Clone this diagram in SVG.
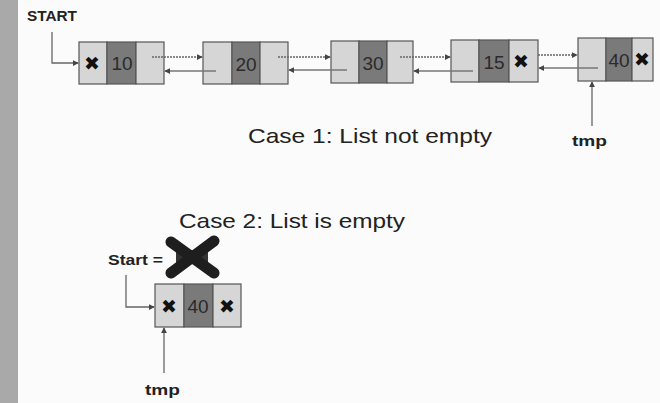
<svg xmlns="http://www.w3.org/2000/svg" width="660" height="403" viewBox="0 0 660 403">
<style>
.lt{fill:#d6d6d6;stroke:#555;stroke-width:1.2}
.dk{fill:#7a7a7a;stroke:#555;stroke-width:1.2}
.num{font-family:"Liberation Sans",Arial,sans-serif;font-size:19px;fill:#2a2a2a;text-anchor:middle}
.x{font-family:"DejaVu Sans",sans-serif;font-size:19px;fill:#111;text-anchor:middle}
.lbl{font-family:"Liberation Sans",Arial,sans-serif;font-weight:bold;font-size:15px;fill:#222}
.cap{font-family:"Liberation Sans",Arial,sans-serif;font-size:21px;fill:#222}
.fw{stroke:#666;stroke-width:1.5;fill:none;stroke-dasharray:2 1;marker-end:url(#ah)}
.bw{stroke:#777;stroke-width:1.5;fill:none;marker-end:url(#ah)}
.pt{stroke:#666;stroke-width:1.3;fill:none;marker-end:url(#ah)}
</style>
<defs>
<marker id="ah" viewBox="0 0 8 8" refX="7" refY="4" markerWidth="6" markerHeight="6" orient="auto" markerUnits="userSpaceOnUse">
<path d="M0,0 L8,4 L0,8 z" fill="#444"/>
</marker>
</defs>
<rect x="0" y="0" width="660" height="403" fill="#fbfbfb"/>
<rect x="0" y="0" width="18" height="403" fill="#a9a9a9"/>

<text class="lbl" x="27" y="21" textLength="50" lengthAdjust="spacingAndGlyphs">START</text>
<text class="cap" x="248" y="143" textLength="244" lengthAdjust="spacingAndGlyphs">Case 1: List not empty</text>
<text class="lbl" x="572" y="146" font-size="16" textLength="35" lengthAdjust="spacingAndGlyphs">tmp</text>
<text class="cap" x="179" y="228" textLength="226" lengthAdjust="spacingAndGlyphs">Case 2: List is empty</text>
<text class="lbl" x="108" y="265" textLength="55" lengthAdjust="spacingAndGlyphs">Start =</text>
<text class="lbl" x="145" y="395" font-size="16" textLength="35" lengthAdjust="spacingAndGlyphs">tmp</text>

<g id="node10">
<rect class="lt" x="79" y="42" width="28" height="42"/>
<rect class="dk" x="107" y="42" width="29" height="42"/>
<rect class="lt" x="136" y="42" width="28" height="42"/>
<text class="x" x="92" y="70">✖</text>
<text class="num" x="122" y="70">10</text>
</g>
<g id="node20">
<rect class="lt" x="203" y="42" width="29" height="42"/>
<rect class="dk" x="232" y="42" width="28" height="42"/>
<rect class="lt" x="260" y="42" width="28" height="42"/>
<text class="num" x="246" y="71">20</text>
</g>
<g id="node30">
<rect class="lt" x="331" y="41" width="28" height="42"/>
<rect class="dk" x="359" y="41" width="28" height="42"/>
<rect class="lt" x="387" y="41" width="26" height="42"/>
<text class="num" x="373" y="70">30</text>
</g>
<g id="node15">
<rect class="lt" x="451" y="40" width="28" height="42"/>
<rect class="dk" x="479" y="40" width="30" height="42"/>
<rect class="lt" x="509" y="40" width="29" height="42"/>
<text class="num" x="494" y="69">15</text>
<text class="x" x="521" y="68">✖</text>
</g>
<g id="node40">
<rect class="lt" x="578" y="38" width="28" height="43"/>
<rect class="dk" x="606" y="38" width="26" height="43"/>
<rect class="lt" x="632" y="38" width="21" height="43"/>
<text class="num" x="619" y="67">40</text>
<text class="x" x="642" y="66">✖</text>
</g>
<g id="node40b">
<rect class="lt" x="155" y="284" width="29" height="43"/>
<rect class="dk" x="184" y="284" width="29" height="43"/>
<rect class="lt" x="213" y="284" width="28" height="43"/>
<text class="x" x="169" y="313">✖</text>
<text class="num" x="198" y="313">40</text>
<text class="x" x="227" y="313">✖</text>
</g>
<g id="nullcross">
<rect x="176" y="250" width="32" height="14" fill="#333"/>
<path d="M171,242 L214,273 M214,241 L171,273" stroke="#1e1e1e" stroke-width="11" stroke-linecap="round"/>
</g>

<g id="connectors">
<path class="pt" d="M52,32 V63 H78"/>
<path class="fw" d="M152,57 H202"/>
<path class="bw" d="M216,71 H165"/>
<path class="fw" d="M278,57 H330"/>
<path class="bw" d="M347,70 H289"/>
<path class="fw" d="M400,57 H450"/>
<path class="bw" d="M473,71 H414"/>
<path class="fw" d="M538,55 H577"/>
<path class="bw" d="M598,68 H539"/>
<path class="pt" d="M592,126 V82"/>
<path class="pt" d="M126,275 V307 H154"/>
<path class="pt" d="M164,373 V328"/>
</g>
</svg>
